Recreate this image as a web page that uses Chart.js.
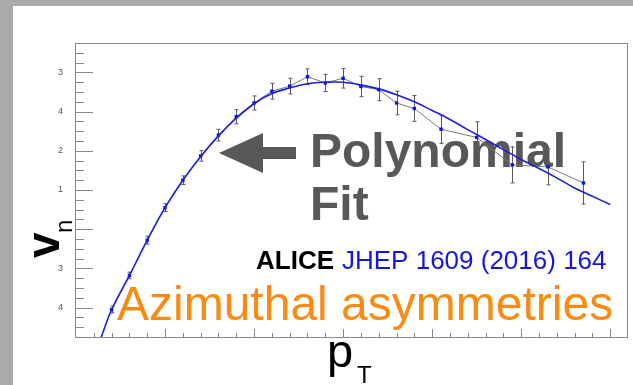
<!DOCTYPE html>
<html>
<head>
<meta charset="utf-8">
<script src="https://cdn.jsdelivr.net/npm/chart.js@4/dist/chart.umd.min.js"></script>
<style>
  html, body { margin: 0; padding: 0; background: #a9aaac; }
  #panel { position: absolute; left: 13px; top: 6px; width: 620px; height: 379px; background: #fff; }
  #vnChart { position: absolute; left: 0; top: 0; }
</style>
</head>
<body>
<div id="panel"></div>
<canvas id="vnChart" width="633" height="385"></canvas>
<script>
  // measured points
  const pt = [0.4, 0.6, 0.8, 1.0, 1.2, 1.4, 1.6, 1.8, 2.0, 2.2, 2.4, 2.6, 2.8, 3.0, 3.2, 3.4, 3.6, 3.8, 4.1, 4.5, 4.9, 5.3, 5.7];
  const vn = [-0.05, 0.82, 1.72, 2.55, 3.25, 3.87, 4.40, 4.87, 5.22, 5.52, 5.65, 5.89, 5.73, 5.85, 5.64, 5.56, 5.22, 5.08, 4.55, 4.34, 3.64, 3.59, 3.18];
  const vnErr = [0.085, 0.085, 0.10, 0.10, 0.11, 0.135, 0.15, 0.18, 0.18, 0.2, 0.2, 0.2, 0.22, 0.25, 0.26, 0.28, 0.3, 0.33, 0.36, 0.4, 0.46, 0.46, 0.54];

  // polynomial fit curve
  const fitPt = [0.25, 0.3, 0.4, 0.6, 0.8, 1.0, 1.2, 1.4, 1.6, 1.8, 2.0, 2.2, 2.4, 2.6, 2.8, 3.0, 3.2, 3.4, 3.6, 3.8, 4.0, 4.2, 4.4, 4.6, 4.8, 5.0, 5.2, 5.4, 5.6, 5.8, 6.0];
  const fitVn = [-0.95, -0.65, -0.05, 0.82, 1.72, 2.55, 3.25, 3.85, 4.38, 4.83, 5.2, 5.46, 5.6, 5.71, 5.75, 5.75, 5.68, 5.58, 5.43, 5.25, 5.03, 4.8, 4.54, 4.29, 4.03, 3.78, 3.55, 3.31, 3.05, 2.84, 2.63];

  // y axis tick labels (0..6)
  const yTicks = [0, 1, 2, 3, 4, 5, 6];
  const yTickLabels = ['4', '3', '', '1', '2', '4', '3'];
  const xTicks = [0, 1, 2, 3, 4, 5, 6];

  const X_MIN = 0, X_MAX = 6.2, Y_MIN = -0.75, Y_MAX = 6.75;

  const errorBars = {
    id: 'errorBars',
    beforeDatasetsDraw(chart) {
      const { ctx } = chart;
      const xs = chart.scales.x, ys = chart.scales.y;
      ctx.save();
      ctx.strokeStyle = '#5a5a5a';
      ctx.lineWidth = 1;
      pt.forEach((x, i) => {
        const px = Math.round(xs.getPixelForValue(x)) + 0.5;
        const top = ys.getPixelForValue(vn[i] + vnErr[i]);
        const bot = ys.getPixelForValue(vn[i] - vnErr[i]);
        ctx.beginPath();
        ctx.moveTo(px, top); ctx.lineTo(px, bot);
        ctx.moveTo(px - 2, top); ctx.lineTo(px + 2, top);
        ctx.moveTo(px - 2, bot); ctx.lineTo(px + 2, bot);
        ctx.stroke();
      });
      ctx.restore();
    }
  };

  // text and arrow sit under the data
  const annotations = {
    id: 'annotations',
    beforeDatasetsDraw(chart) {
      const { ctx } = chart;
      ctx.save();
      ctx.textBaseline = 'alphabetic';
      ctx.textAlign = 'left';

      ctx.fillStyle = '#58585a';
      ctx.beginPath();
      ctx.moveTo(219, 153);
      ctx.lineTo(263, 133);
      ctx.lineTo(263, 147);
      ctx.lineTo(296, 147);
      ctx.lineTo(296, 159);
      ctx.lineTo(263, 159);
      ctx.lineTo(263, 173);
      ctx.closePath();
      ctx.fill();

      ctx.font = 'bold 48px "Liberation Sans", Arial, sans-serif';
      ctx.fillText('Polynomial', 310, 167);
      ctx.fillText('Fit', 310, 220);

      ctx.font = 'bold 26px "Liberation Sans", Arial, sans-serif';
      ctx.fillStyle = '#000';
      ctx.fillText('ALICE', 256, 269);
      ctx.font = '26px "Liberation Sans", Arial, sans-serif';
      ctx.fillStyle = '#1414e6';
      ctx.fillText('JHEP 1609 (2016) 164', 342, 269);

      ctx.font = '48px "Liberation Sans", Arial, sans-serif';
      ctx.fillStyle = '#f98a12';
      ctx.fillText('Azimuthal asymmetries', 117, 320);
      ctx.restore();
    }
  };

  const frameAndTicks = {
    id: 'frameAndTicks',
    afterDraw(chart) {
      const { ctx, chartArea: a } = chart;
      const xs = chart.scales.x, ys = chart.scales.y;
      ctx.save();
      ctx.strokeStyle = '#8a8a8a';
      ctx.lineWidth = 1;
      ctx.strokeRect(Math.round(a.left) - 0.5, Math.round(a.top) + 0.5, Math.round(a.right - a.left), Math.round(a.bottom - a.top));

      ctx.beginPath();
      for (let v = -0.5; v <= 6.5 + 1e-6; v += 0.25) {
        const major = Math.abs(v - Math.round(v)) < 1e-6;
        const py = Math.round(ys.getPixelForValue(v)) + 0.5;
        ctx.moveTo(a.left, py);
        ctx.lineTo(a.left + (major ? 17 : 8), py);
      }
      for (let v = 0.2; v <= X_MAX - 0.1; v += 0.2) {
        const major = Math.abs(v - Math.round(v)) < 1e-6;
        const px = Math.round(xs.getPixelForValue(v)) + 0.5;
        ctx.moveTo(px, a.bottom);
        ctx.lineTo(px, a.bottom - (major ? 8 : 4));
      }
      ctx.stroke();

      // axis titles
      ctx.fillStyle = '#000';
      ctx.textAlign = 'left';
      ctx.textBaseline = 'alphabetic';
      ctx.font = '47px "Liberation Sans", Arial, sans-serif';
      ctx.fillText('p', 327, 367);
      ctx.font = '24px "Liberation Sans", Arial, sans-serif';
      ctx.fillText('T', 357, 383);

      ctx.translate(59, 258);
      ctx.rotate(-Math.PI / 2);
      ctx.font = 'bold 46px "Liberation Sans", Arial, sans-serif';
      ctx.fillText('v', 0, 0);
      ctx.font = '24px "Liberation Sans", Arial, sans-serif';
      ctx.fillText('n', 25, 13);
      ctx.restore();
    }
  };

  new Chart(document.getElementById('vnChart'), {
    type: 'line',
    data: {
      datasets: [
        {
          label: 'fit',
          data: fitPt.map((x, i) => ({ x, y: fitVn[i] })),
          borderColor: '#1e1ee0',
          borderWidth: 1.6,
          pointRadius: 0,
          tension: 0.4,
          fill: false
        },
        {
          label: 'vn',
          data: pt.map((x, i) => ({ x, y: vn[i] })),
          borderColor: '#7a7a7a',
          borderWidth: 1,
          pointStyle: 'rect',
          pointRadius: 2.4,
          pointBorderWidth: 0,
          pointBackgroundColor: '#1010ee',
          tension: 0,
          fill: false
        }
      ]
    },
    options: {
      responsive: false,
      animation: false,
      layout: { padding: { left: 0, top: 43, right: 5, bottom: 48 } },
      plugins: { legend: { display: false }, tooltip: { enabled: false } },
      scales: {
        x: {
          type: 'linear', min: X_MIN, max: X_MAX,
          grid: { display: false }, border: { display: false },
          ticks: { display: false },
          afterBuildTicks: s => { s.ticks = xTicks.map(v => ({ value: v })); },
          afterFit: s => { s.height = 0; }
        },
        y: {
          type: 'linear', min: Y_MIN, max: Y_MAX,
          grid: { display: false }, border: { display: false },
          afterBuildTicks: s => { s.ticks = yTicks.map(v => ({ value: v })); },
          ticks: {
            padding: 5,
            color: '#555',
            font: { family: '"Liberation Sans", Arial, sans-serif', size: 9 },
            callback: (v) => yTickLabels[yTicks.indexOf(v)]
          },
          afterFit: s => { s.width = 76; }
        }
      }
    },
    plugins: [annotations, errorBars, frameAndTicks]
  });
</script>
</body>
</html>
